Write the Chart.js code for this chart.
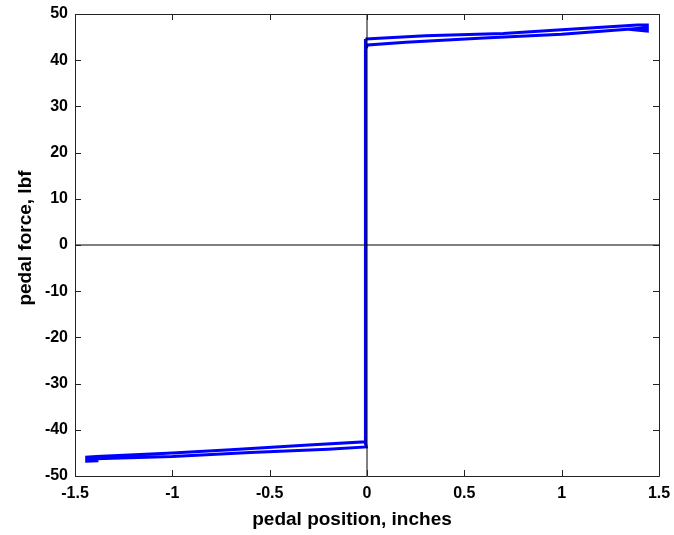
<!DOCTYPE html>
<html>
<head>
<meta charset="utf-8">
<script src="https://cdn.jsdelivr.net/npm/chart.js@4/dist/chart.umd.min.js"></script>
<style>
  html, body { margin: 0; padding: 0; background: #fff; }
  canvas { display: block; }
</style>
</head>
<body>
<canvas id="pedalChart" width="674" height="535"></canvas>
<script>
// pedal force vs. position loop (inches, lbf)
const pedalPosition = [-0.008, 0.3, 0.7, 1.0, 1.39, 1.44, 1.44, 1.39, 1.44, 1.0, 0.6, 0.2, 0.004, -0.008,
                       -0.008, -0.3, -0.7, -1.0, -1.39, -1.44, -1.44, -1.38, -1.44, -1.0, -0.6, -0.2, -0.004, -0.008, -0.008];
const pedalForce    = [44.6, 45.3, 45.8, 46.6, 47.6, 47.6, 46.3, 46.5, 47.0, 45.6, 44.8, 43.9, 43.3, 42.5,
                       -42.6, -43.3, -44.3, -45.0, -45.8, -45.9, -46.8, -46.7, -46.3, -45.8, -44.9, -44.2, -43.7, -43.0, 44.6];

const xTicks = [-1.5, -1, -0.5, 0, 0.5, 1, 1.5];
const yTicks = [-50, -40, -30, -20, -10, 0, 10, 20, 30, 40, 50];

const loopPoints = pedalPosition.map((x, i) => ({ x: x, y: pedalForce[i] }));

const FONT = "'Liberation Sans', Arial, Helvetica, sans-serif";

// box, inward ticks and axis labels in the old plotting style
const boxPlugin = {
    id: 'boxPlugin',
    afterDraw(chart) {
        const { ctx, chartArea: a, scales } = chart;
        const xs = scales.x, ys = scales.y;
        const len = 6;
        ctx.save();
        ctx.strokeStyle = '#222';
        ctx.lineWidth = 1;
        ctx.beginPath();
        ctx.rect(Math.round(a.left) + 0.5, Math.round(a.top) + 0.5,
                 Math.round(a.right - a.left), Math.round(a.bottom - a.top));
        xTicks.forEach(v => {
            const px = Math.round(xs.getPixelForValue(v)) + 0.5;
            ctx.moveTo(px, a.bottom); ctx.lineTo(px, a.bottom - len);
            ctx.moveTo(px, a.top); ctx.lineTo(px, a.top + len);
        });
        yTicks.forEach(v => {
            const py = Math.round(ys.getPixelForValue(v)) + 0.5;
            ctx.moveTo(a.left, py); ctx.lineTo(a.left + len, py);
            ctx.moveTo(a.right, py); ctx.lineTo(a.right - len, py);
        });
        ctx.stroke();

        ctx.fillStyle = '#000';
        ctx.font = 'bold 19px ' + FONT;
        ctx.textAlign = 'center';
        ctx.textBaseline = 'alphabetic';
        ctx.fillText('pedal position, inches', 352, 525);
        ctx.translate(31, 238);
        ctx.rotate(-Math.PI / 2);
        ctx.fillText('pedal force, lbf', 0, 0);
        ctx.restore();
    }
};

const ctx = document.getElementById('pedalChart').getContext('2d');
const pedalChart = new Chart(ctx, {
    type: 'scatter',
    data: {
        datasets: [
            {
                // zero lines
                data: [{ x: -1.5, y: 0 }, { x: 1.5, y: 0 }],
                showLine: true,
                borderColor: '#000',
                borderWidth: 1,
                pointRadius: 0
            },
            {
                data: [{ x: 0, y: -50 }, { x: 0, y: 50 }],
                showLine: true,
                borderColor: '#000',
                borderWidth: 1,
                pointRadius: 0
            },
            {
                data: loopPoints,
                showLine: true,
                borderColor: '#0000ff',
                borderWidth: 3,
                pointRadius: 0,
                tension: 0
            }
        ]
    },
    options: {
        responsive: false,
        animation: false,
        layout: { padding: { top: 14, right: 15, left: 0, bottom: 0 } },
        plugins: {
            legend: { display: false },
            tooltip: { enabled: false }
        },
        scales: {
            x: {
                type: 'linear',
                min: -1.5,
                max: 1.5,
                afterFit: (scale) => {
                    scale.height = 59;
                    scale.paddingLeft = 0;
                    scale.paddingRight = 0;
                },
                afterBuildTicks: (scale) => { scale.ticks = xTicks.map(v => ({ value: v })); },
                grid: { display: false, drawTicks: false },
                border: { display: false },
                ticks: {
                    padding: 8,
                    color: '#000',
                    font: { family: FONT, size: 16, weight: 'bold' },
                    maxRotation: 0,
                    callback: (v) => String(v)
                }
            },
            y: {
                type: 'linear',
                min: -50,
                max: 50,
                afterFit: (scale) => {
                    scale.width = 75;
                    scale.paddingTop = 0;
                    scale.paddingBottom = 0;
                },
                afterBuildTicks: (scale) => { scale.ticks = yTicks.map(v => ({ value: v })); },
                grid: { display: false, drawTicks: false },
                border: { display: false },
                ticks: {
                    padding: 7,
                    color: '#000',
                    font: { family: FONT, size: 16, weight: 'bold' },
                    callback: (v) => String(v)
                }
            }
        }
    },
    plugins: [boxPlugin]
});
</script>
</body>
</html>
